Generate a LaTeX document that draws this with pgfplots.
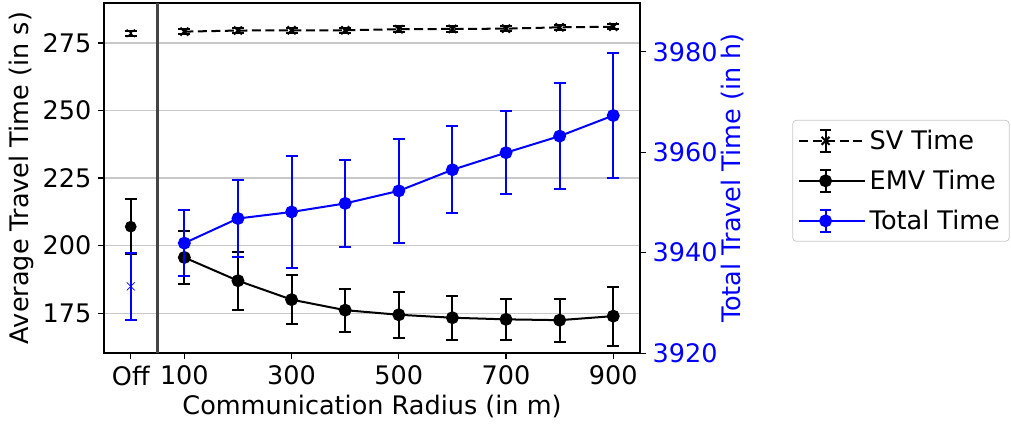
\documentclass[border=0pt]{standalone}
\usepackage{fontspec}
\setmainfont{DejaVu Sans}
\usepackage{pgfplots}
\usepackage{pgfplotstable}
\pgfplotsset{compat=1.18}

\pgfplotstableread{
x y e
0 278.6 1.0
}\svoff
\pgfplotstableread{
x y e
100 279.2 1.0
200 279.6 1.0
300 279.7 1.0
400 279.7 1.0
500 280.1 1.0
600 280.2 1.0
700 280.3 1.0
800 280.8 1.0
900 281.0 1.0
}\sv
\pgfplotstableread{
x y e
0 207.0 10.2
}\emvoff
\pgfplotstableread{
x y e
100 195.6 9.7
200 187.0 10.7
300 180.0 9.2
400 176.1 8.0
500 174.4 8.5
600 173.3 8.2
700 172.7 7.7
800 172.4 8.0
900 173.9 10.9
}\emv
\pgfplotstableread{
x y e
0 3933.3 6.7
}\totoff
\pgfplotstableread{
x y e
100 3941.9 6.6
200 3946.8 7.7
300 3948.1 11.2
400 3949.8 8.7
500 3952.3 10.3
600 3956.5 8.7
700 3959.9 8.2
800 3963.2 10.5
900 3967.3 12.5
}\tot

\definecolor{sepgray}{RGB}{68,68,68}
\definecolor{gridgray}{RGB}{200,200,200}
\newcommand\fs{\fontsize{13.6}{16}\selectfont}

\begin{document}
\begin{tikzpicture}
\pgfplotsset{
  ebleg/.style={legend image code/.code={
     \draw[mark repeat=2,mark phase=2,##1] plot coordinates {(0pt,0pt) (14pt,0pt) (28pt,0pt)};
     \draw[##1,solid] (14pt,-6pt) -- (14pt,6pt) (11pt,-6pt) -- (17pt,-6pt) (11pt,6pt) -- (17pt,6pt);
     \path (0pt,0pt) -- (35pt,0pt);
  }},
  common/.style={
    scale only axis, width=285.7pt, height=186.6pt,
    xmin=-50, xmax=950,
    /pgf/number format/assume math mode=true,
    /pgf/number format/1000 sep={},
    tick label style={font=\fs},
    label style={font=\fs},
    tick align=outside, major tick length=3.2pt,
    every tick/.style={black, line width=0.6pt},
    axis line style={line width=0.7pt},
  },
  ebar/.style={error bars/y dir=both, error bars/y explicit,
     error bars/error bar style={solid, line width=1.07pt},
     error bars/error mark options={solid, rotate=90, mark size=3.2pt, line width=1.07pt}},
}
\begin{axis}[common, name=ax,
  ymin=160.2, ymax=289.8,
  xtick={0,100,300,500,700,900}, xticklabels={Off,100,300,500,700,900},
  ytick={175,200,225,250,275},
  xtick pos=bottom, ytick pos=left,
  ymajorgrids, grid style={gridgray, line width=0.6pt},
  xlabel={Communication Radius (in m)},
  ylabel={Average Travel Time (in s)},
  xlabel style={yshift=2pt},
  ylabel shift=-2pt,
]
\addplot[sepgray, line width=1.6pt, forget plot] coordinates {(50,160.2) (50,289.8)};
\addplot[black, line width=1.07pt, dash pattern=on 4.8pt off 2.4pt, mark=x, mark size=3pt, mark options={solid}, ebar] table[x=x,y=y,y error=e] {\sv};
\addplot[black, only marks, mark=x, mark size=3pt, ebar] table[x=x,y=y,y error=e] {\svoff};
\addplot[black, line width=1.07pt, mark=*, mark size=2.9pt, ebar] table[x=x,y=y,y error=e] {\emv};
\addplot[black, only marks, mark=*, mark size=2.9pt, ebar] table[x=x,y=y,y error=e] {\emvoff};
\end{axis}
\begin{axis}[common,
  ymin=3920, ymax=3989.7,
  axis y line*=right, axis x line=none,
  ytick={3920,3940,3960,3980},
  yticklabel style={blue},
  ylabel={Total Travel Time (in h)}, ylabel style={blue},
  ylabel shift=-5pt,
  legend style={at={(1.284,0.666)}, anchor=north west, draw=gridgray, rounded corners=2pt,
     font=\fs, row sep=5.5pt, inner sep=3pt},
  legend cell align=left,
]
\addlegendimage{ebleg, black, line width=1.07pt, dash pattern=on 4.8pt off 2.4pt, mark=x, mark size=3pt, mark options={solid}}
\addlegendentry{SV Time}
\addlegendimage{ebleg, black, line width=1.07pt, mark=*, mark size=2.9pt}
\addlegendentry{EMV Time}
\addplot[ebleg, blue, line width=1.07pt, mark=*, mark size=2.9pt, ebar] table[x=x,y=y,y error=e] {\tot};
\addlegendentry{Total Time}
\addplot[forget plot, blue, only marks, mark=x, mark size=3pt, ebar] table[x=x,y=y,y error=e] {\totoff};
\end{axis}
\pgfresetboundingbox
\useasboundingbox ([xshift=-55.4pt, yshift=-37.8pt]ax.south west) rectangle ([xshift=197.7pt, yshift=1.6pt]ax.north east);
\end{tikzpicture}
\end{document}
